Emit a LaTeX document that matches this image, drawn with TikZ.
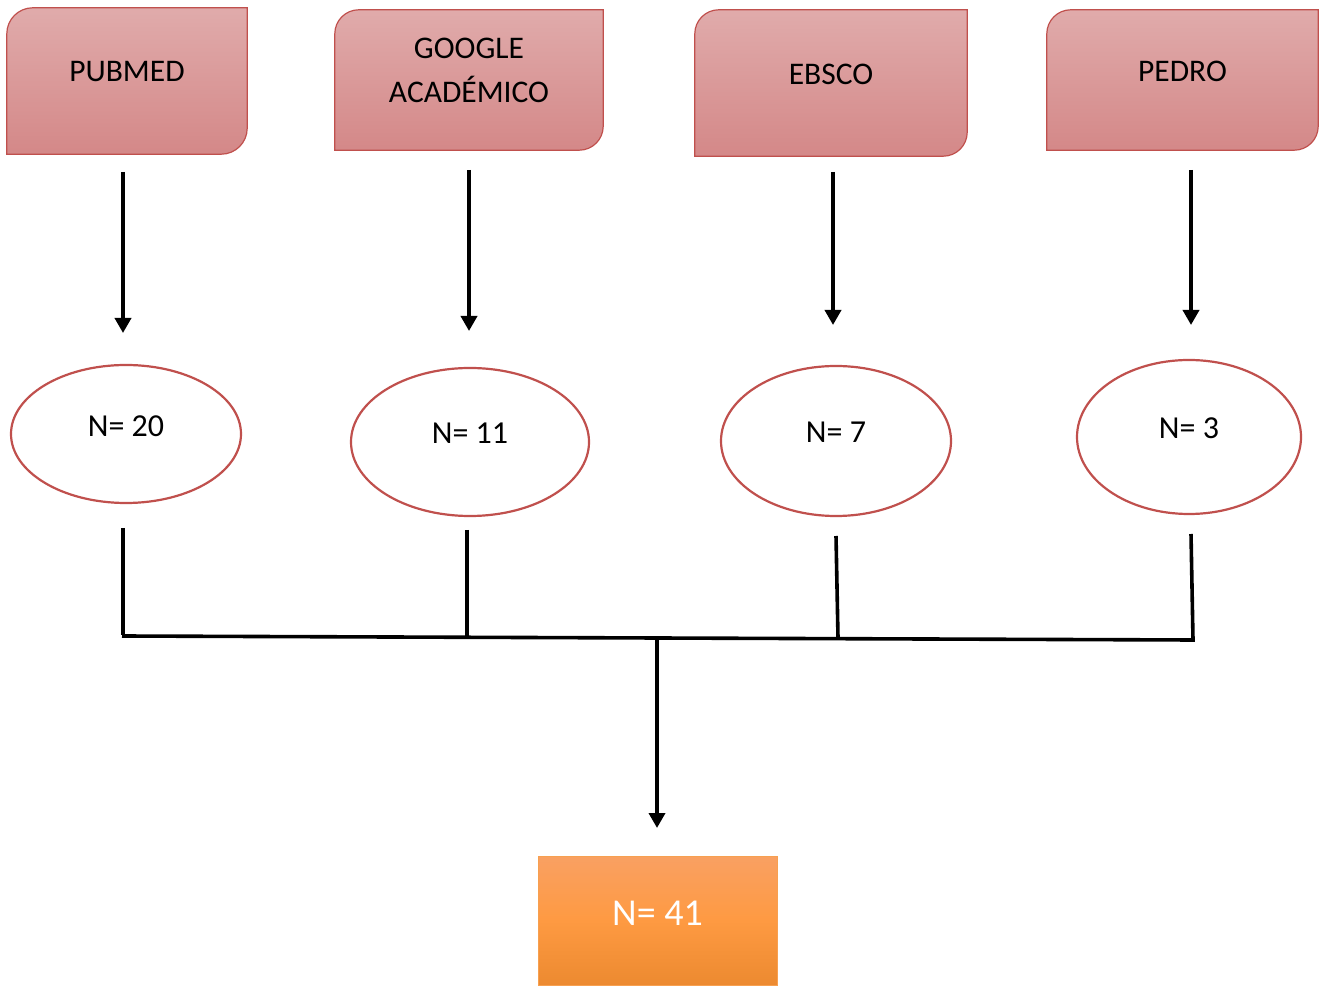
\documentclass[tikz,border=0pt]{standalone}
\usepackage{fontspec}
\setmainfont{Carlito}
\usetikzlibrary{arrows.meta,calc}
\definecolor{redline}{HTML}{C0504D}
\definecolor{boxtop}{HTML}{E0ABAB}
\definecolor{boxbot}{HTML}{D48888}
\definecolor{ortop}{HTML}{F9A062}
\definecolor{ormid}{HTML}{FE9A42}
\definecolor{orbot}{HTML}{EC8A30}
\definecolor{orline}{HTML}{F7A050}
\tikzset{
  boxshape/.style={rectangle,inner sep=0pt},
  boxtext/.style={font=\fontsize{31.5}{44}\selectfont,align=center,inner sep=0pt},
  ellshape/.style={ellipse,draw=redline,line width=2.2pt,fill=white,inner sep=0pt},
  elltext/.style={font=\fontsize{32}{38}\selectfont,inner sep=0pt},
  conn/.style={line width=3.6pt,draw=black},
  arr/.style={conn,-{Triangle[width=16pt,length=15pt]}},
  boxfill/.style={draw=redline,line width=1.2pt,top color=boxtop,bottom color=boxbot}
}
\usetikzlibrary{shapes.geometric}
\newcommand{\diagbox}[2]{%
  \path[boxfill] (#1.south west) -- ($(#1.north west)+(0,-#2)$)
    arc[start angle=180,end angle=90,radius=#2] -- (#1.north east)
    -- ($(#1.south east)+(0,#2)$) arc[start angle=0,end angle=-90,radius=#2] -- cycle;}
\begin{document}
\begin{tikzpicture}[x=1pt,y=1pt]
\useasboundingbox (0,0) rectangle (1321,985);
% top boxes
\node[boxshape,minimum width=240pt,minimum height=146pt] (pub) at (127,904) {};
\node[boxshape,minimum width=268pt,minimum height=140pt] (goo) at (469,905) {};
\node[boxshape,minimum width=272pt,minimum height=146pt] (ebs) at (831,902) {};
\node[boxshape,minimum width=271pt,minimum height=140pt] (ped) at (1182.5,905) {};
\diagbox{pub}{26pt}
\diagbox{goo}{24pt}
\diagbox{ebs}{24pt}
\diagbox{ped}{24pt}
\node[boxtext] (pubt) at ([yshift=9pt]pub.center) {PUBMED};
\node[boxtext] (goot) at ([yshift=10pt]goo.center) {GOOGLE\\ACADÉMICO};
\node[boxtext] (ebst) at ([yshift=9pt]ebs.center) {EBSCO};
\node[boxtext] (pedt) at ([yshift=9pt]ped.center) {PEDRO};
% ellipses
\node[ellshape,minimum width=230pt,minimum height=138pt] (e1) at (126,551) {};
\node[ellshape,minimum width=238pt,minimum height=148pt] (e2) at (470,543) {};
\node[ellshape,minimum width=230pt,minimum height=150pt] (e3) at (836,544) {};
\node[ellshape,minimum width=224pt,minimum height=154pt] (e4) at (1189,548) {};
\node[elltext] (t1) at ([yshift=8pt]e1.center) {N= 20};
\node[elltext] (t2) at ([yshift=9pt]e2.center) {N= 11};
\node[elltext] (t3) at ([yshift=9pt]e3.center) {N= 7};
\node[elltext] (t4) at ([yshift=9pt]e4.center) {N= 3};
% bottom box
\node[rectangle,draw=orline,line width=1pt,top color=ortop,bottom color=orbot,middle color=ormid,
      minimum width=239pt,minimum height=129pt,inner sep=0pt] (res) at (657.5,64.5) {};
\node[font=\fontsize{38}{44}\selectfont,text=white,inner sep=0pt] (rest) at ([yshift=7pt]res.center) {N= 41};
% arrow coordinates
\coordinate (a1s) at (123,813); \coordinate (a1e) at (123,652);
\coordinate (a2s) at (469,815); \coordinate (a2e) at (469,654);
\coordinate (a3s) at (833,813); \coordinate (a3e) at (833,660);
\coordinate (a4s) at (1191,815); \coordinate (a4e) at (1191,660);
\draw[arr] (a1s) -- (a1e);
\draw[arr] (a2s) -- (a2e);
\draw[arr] (a3s) -- (a3e);
\draw[arr] (a4s) -- (a4e);
% merge lines
\coordinate (l1s) at (123,457); \coordinate (l1e) at (123,350);
\coordinate (l2s) at (467,455); \coordinate (l2e) at (467,347);
\coordinate (l3s) at (836,449); \coordinate (l3e) at (838,347);
\coordinate (l4s) at (1191,451); \coordinate (l4e) at (1193,345);
\coordinate (hl) at (122,349);
\coordinate (cm) at (657,347); \coordinate (ce) at (657,157);
\draw[conn] (l1s) -- (l1e);
\draw[conn] (l2s) -- (l2e);
\draw[conn] (l3s) -- (l3e);
\draw[conn] (l4s) -- (l4e) -- (hl);
\draw[arr] (cm) -- (ce);
\end{tikzpicture}
\end{document}
